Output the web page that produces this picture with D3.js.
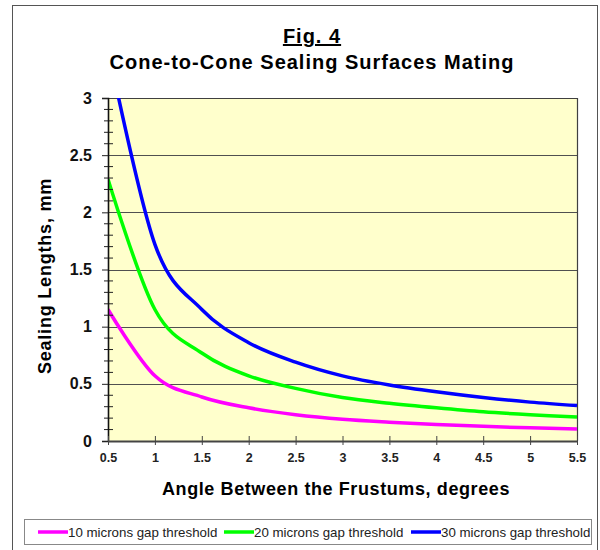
<!DOCTYPE html>
<html>
<head>
<meta charset="utf-8">
<script src="https://cdn.jsdelivr.net/npm/d3@7"></script>
<style>
  body { margin: 0; background: #fff; }
  text { font-family: "Liberation Sans", Arial, sans-serif; }
</style>
</head>
<body>
<div class="canvas"></div>
<script>
// angles (degrees) where the curves were read
const angles = [0.5, 1, 1.5, 2, 2.5, 3, 3.5, 4, 4.5, 5, 5.5];
// sealing lengths, mm
const gap10 = [1.15, 0.57, 0.385, 0.29, 0.23, 0.19, 0.165, 0.145, 0.128, 0.115, 0.105];
const gap20 = [2.29, 1.15, 0.77, 0.57, 0.46, 0.38, 0.33, 0.29, 0.255, 0.23, 0.21];
const gap30 = [3.44, 1.72, 1.15, 0.86, 0.69, 0.57, 0.49, 0.43, 0.38, 0.34, 0.31];
const seriesNames = ["10 microns gap threshold", "20 microns gap threshold", "30 microns gap threshold"];
const seriesColors = ["#ff00ff", "#00ff00", "#0000ff"];
const xTicks = [0.5, 1, 1.5, 2, 2.5, 3, 3.5, 4, 4.5, 5, 5.5];
const yTicks = [0, 0.5, 1, 1.5, 2, 2.5, 3];

const width = 600, height = 550;
const plotLeft = 108, plotRight = 577, plotTop = 98, plotBottom = 441;

const svg = d3.select(".canvas").append("svg")
  .attr("width", width).attr("height", height);

// outer frame
svg.append("rect")
  .attr("x", 12.5).attr("y", 5.5)
  .attr("width", 585).attr("height", 560)
  .attr("fill", "none").attr("stroke", "#555").attr("stroke-width", 1);

let xScale = d3.scaleLinear().domain([0.5, 5.5]).range([plotLeft, plotRight]);
let yScale = d3.scaleLinear().domain([0, 3]).range([plotBottom, plotTop]);

// plot background
svg.append("rect")
  .attr("x", plotLeft).attr("y", plotTop)
  .attr("width", plotRight - plotLeft).attr("height", plotBottom - plotTop)
  .attr("fill", "#ffffcc");

// gridlines
svg.append("g")
  .selectAll("line")
  .data(yTicks.filter((d) => d > 0 && d < 3))
  .join("line")
  .attr("x1", plotLeft).attr("x2", plotRight)
  .attr("y1", (d) => Math.round(yScale(d)) + 0.5)
  .attr("y2", (d) => Math.round(yScale(d)) + 0.5)
  .attr("stroke", "#505050").attr("stroke-width", 1);

// top and right border
svg.append("path")
  .attr("d", `M${plotLeft},${plotTop + 0.5}H${plotRight + 0.5}V${plotBottom}`)
  .attr("fill", "none").attr("stroke", "#404040").attr("stroke-width", 1.2);

svg.append("clipPath").attr("id", "plot-clip")
  .append("rect")
  .attr("x", plotLeft).attr("y", plotTop)
  .attr("width", plotRight - plotLeft + 2).attr("height", plotBottom - plotTop);

const allSeries = [gap10, gap20, gap30];
// smoothed line, close to a spreadsheet "smooth line"
const line = d3.line()
  .x((d, i) => xScale(angles[i]))
  .y((d) => yScale(d))
  .curve(d3.curveCatmullRom.alpha(0));

svg.append("g").attr("clip-path", "url(#plot-clip)")
  .selectAll("path")
  .data(allSeries)
  .join("path")
  .attr("d", (d) => line(d))
  .attr("fill", "none")
  .attr("stroke", (d, i) => seriesColors[i])
  .attr("stroke-width", 3.5)
  .attr("stroke-linejoin", "round");

// y axis: minor ticks every 0.1, crossing the axis
const yMinor = d3.range(0, 31).map((i) => i / 10).filter((v) => Math.round(v * 10) % 5 !== 0);
svg.append("g")
  .selectAll("line")
  .data(yMinor)
  .join("line")
  .attr("x1", plotLeft - 4).attr("x2", plotLeft + 5)
  .attr("y1", (d) => yScale(d)).attr("y2", (d) => yScale(d))
  .attr("stroke", "#222").attr("stroke-width", 1);

const yAxis = svg.append("g")
  .attr("transform", `translate(${plotLeft},0)`)
  .call(d3.axisLeft(yScale).tickValues(yTicks).tickSize(6).tickPadding(10).tickFormat(d3.format("")));
yAxis.select(".domain").attr("stroke", "#111").attr("stroke-width", 1.6);
yAxis.selectAll(".tick line").attr("stroke", "#222");
yAxis.selectAll("text")
  .style("font-size", "16px").style("font-weight", "bold").attr("fill", "#111");

const xAxis = svg.append("g")
  .attr("transform", `translate(0,${plotBottom})`)
  .call(d3.axisBottom(xScale).tickValues(xTicks).tickSize(4).tickSizeOuter(0).tickPadding(8).tickFormat(d3.format("")));
xAxis.select(".domain").attr("stroke", "#444").attr("stroke-width", 2);
xAxis.selectAll(".tick line").attr("y1", -5).attr("stroke", "#444");
xAxis.selectAll("text")
  .style("font-size", "12.5px").style("font-weight", "bold").attr("fill", "#222");

// titles
svg.append("text")
  .attr("x", 312).attr("y", 43)
  .attr("text-anchor", "middle")
  .style("font-size", "20px").style("font-weight", "bold")
  .style("letter-spacing", "1px")
  .style("text-decoration", "underline")
  .text("Fig. 4");
svg.append("text")
  .attr("x", 312).attr("y", 69)
  .attr("text-anchor", "middle")
  .style("font-size", "20px").style("font-weight", "bold")
  .style("letter-spacing", "1px")
  .text("Cone-to-Cone Sealing Surfaces Mating");

svg.append("text")
  .attr("x", 336).attr("y", 495)
  .attr("text-anchor", "middle")
  .style("font-size", "18px").style("font-weight", "bold")
  .style("letter-spacing", "0.6px")
  .text("Angle Between the Frustums, degrees");

svg.append("text")
  .attr("transform", "translate(51,276) rotate(-90)")
  .attr("text-anchor", "middle")
  .style("font-size", "18px").style("font-weight", "bold")
  .style("letter-spacing", "0.8px")
  .text("Sealing Lengths, mm");

// legend
svg.append("rect")
  .attr("x", 24.5).attr("y", 519.5)
  .attr("width", 567).attr("height", 25)
  .attr("fill", "#fff").attr("stroke", "#888");

const legendX = [38, 224, 411];
const legend = svg.append("g")
  .selectAll("g")
  .data(seriesNames)
  .join("g")
  .attr("transform", (d, i) => `translate(${legendX[i]},532)`);
legend.append("line")
  .attr("x1", 0).attr("x2", 30)
  .attr("stroke", (d, i) => seriesColors[i]).attr("stroke-width", 3.5);
legend.append("text")
  .attr("x", 30).attr("y", 4.5)
  .style("font-size", "13.3px").attr("fill", "#222")
  .text((d) => d);
</script>
</body>
</html>
